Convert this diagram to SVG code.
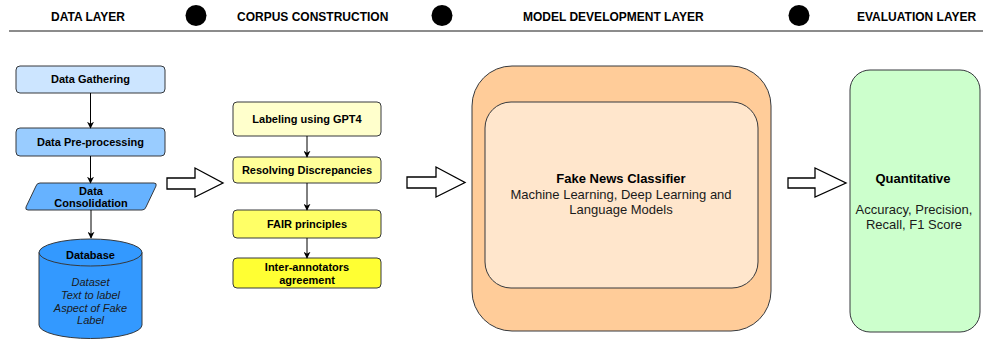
<svg xmlns="http://www.w3.org/2000/svg" width="983" height="340" viewBox="0 0 983 340">
<defs>
<style>
text{font-family:"Liberation Sans",Arial,sans-serif;fill:#000}
.h{font-size:12px;font-weight:bold}
.b11{font-size:11px;font-weight:bold;text-anchor:middle}
.i11{font-size:11px;font-style:italic;text-anchor:middle;fill:#1a1a1a}
.b13{font-size:13px;font-weight:bold;text-anchor:middle}
.r13{font-size:13px;text-anchor:middle;fill:#1a1a1a}
.box{stroke:#36393d;stroke-width:1}
.conn{stroke:#000;stroke-width:1;fill:none;marker-end:url(#ah)}
.blk{fill:#fff;stroke:#000;stroke-width:1.3;stroke-linejoin:miter}
</style>
<marker id="ah" viewBox="0 0 10 10" refX="9" refY="5" markerWidth="7" markerHeight="7" markerUnits="userSpaceOnUse" orient="auto">
<path d="M0,0 L10,5 L0,10 L3,5 Z" fill="#000"/>
</marker>
</defs>
<rect width="983" height="340" fill="#fff"/>
<g id="header">
<text class="h" x="51" y="21">DATA LAYER</text>
<circle cx="196" cy="15.5" r="10.5" fill="#000"/>
<text class="h" x="237" y="21">CORPUS CONSTRUCTION</text>
<circle cx="442" cy="15.5" r="10.5" fill="#000"/>
<text class="h" x="523" y="21">MODEL DEVELOPMENT LAYER</text>
<circle cx="799" cy="15.5" r="10.5" fill="#000"/>
<text class="h" x="857" y="21">EVALUATION LAYER</text>
<line x1="9" y1="31" x2="983" y2="31" stroke="#666" stroke-width="1.5"/>
</g>
<g id="data-gathering">
<rect class="box" x="16" y="66" width="149" height="27" rx="4" fill="#cce5ff"/>
<text class="b11" x="90.5" y="83">Data Gathering</text>
</g>
<g id="data-preprocessing">
<rect class="box" x="16" y="128" width="149" height="28" rx="4" fill="#99ccff"/>
<text class="b11" x="90.5" y="146">Data Pre-processing</text>
</g>
<g id="data-consolidation">
<path class="box" d="M40,183 L154,183 Q157,183 156,186 L146,207 Q145,210 142,210 L28,210 Q25,210 26,207 L36,186 Q37,183 40,183 Z" fill="#66b2ff"/>
<text class="b11" x="91" y="195">Data</text>
<text class="b11" x="91" y="207">Consolidation</text>
</g>
<g id="database">
<path class="box" d="M39,252.5 A51.5,13.5 0 0 1 142,252.5 L142,325 A51.5,13.5 0 0 1 39,325 Z" fill="#3399ff"/>
<path class="box" d="M39,252.5 A51.5,13.5 0 0 0 142,252.5" fill="none"/>
<text class="b11" x="90.5" y="259">Database</text>
<text class="i11" x="90.5" y="286">Dataset</text>
<text class="i11" x="90.5" y="298.5">Text to label</text>
<text class="i11" x="90.5" y="312">Aspect of Fake</text>
<text class="i11" x="90.5" y="324">Label</text>
</g>
<g id="labeling">
<rect class="box" x="233" y="102" width="148" height="34" rx="4" fill="#ffffcc"/>
<text class="b11" x="307" y="123">Labeling using GPT4</text>
</g>
<g id="resolving">
<rect class="box" x="233" y="157" width="148" height="26" rx="4" fill="#ffff99"/>
<text class="b11" x="307" y="174">Resolving Discrepancies</text>
</g>
<g id="fair">
<rect class="box" x="233" y="210" width="148" height="28" rx="4" fill="#ffff66"/>
<text class="b11" x="307" y="228">FAIR principles</text>
</g>
<g id="inter-annotators">
<rect class="box" x="233" y="258" width="148" height="30" rx="4" fill="#ffff33"/>
<text class="b11" x="307" y="271">Inter-annotators</text>
<text class="b11" x="307" y="284">agreement</text>
</g>
<g id="model-layer">
<rect class="box" x="472" y="66" width="299" height="265" rx="40" fill="#ffcc99"/>
</g>
<g id="fake-news-classifier">
<rect class="box" x="485" y="102" width="273" height="186" rx="26" fill="#ffe6cc"/>
<text class="b13" x="621" y="183">Fake News Classifier</text>
<text class="r13" x="621" y="199">Machine Learning, Deep Learning and</text>
<text class="r13" x="621" y="214">Language Models</text>
</g>
<g id="evaluation">
<rect class="box" x="850" y="70" width="130" height="262" rx="20" fill="#ccffcc"/>
<text class="b13" x="913" y="183">Quantitative</text>
<text class="r13" x="914" y="214">Accuracy, Precision,</text>
<text class="r13" x="914" y="229">Recall, F1 Score</text>
</g>
<g id="connectors">
<line class="conn" x1="90.5" y1="93" x2="90.5" y2="128"/>
<line class="conn" x1="90.5" y1="156" x2="90.5" y2="183"/>
<line class="conn" x1="91" y1="210" x2="91" y2="238"/>
<line class="conn" x1="307" y1="136" x2="307" y2="157"/>
<line class="conn" x1="307" y1="183" x2="307" y2="210"/>
<line class="conn" x1="307" y1="238" x2="307" y2="258"/>
<path class="blk" d="M167,178 L195,178 L195,168 L223,183 L195,197 L195,189 L167,189 Z"/>
<path class="blk" d="M407,177 L436,177 L436,167 L465,182.5 L436,197 L436,188 L407,188 Z"/>
<path class="blk" d="M788,178 L815,178 L815,168 L846,183 L815,197 L815,188 L788,188 Z"/>
</g>
</svg>
